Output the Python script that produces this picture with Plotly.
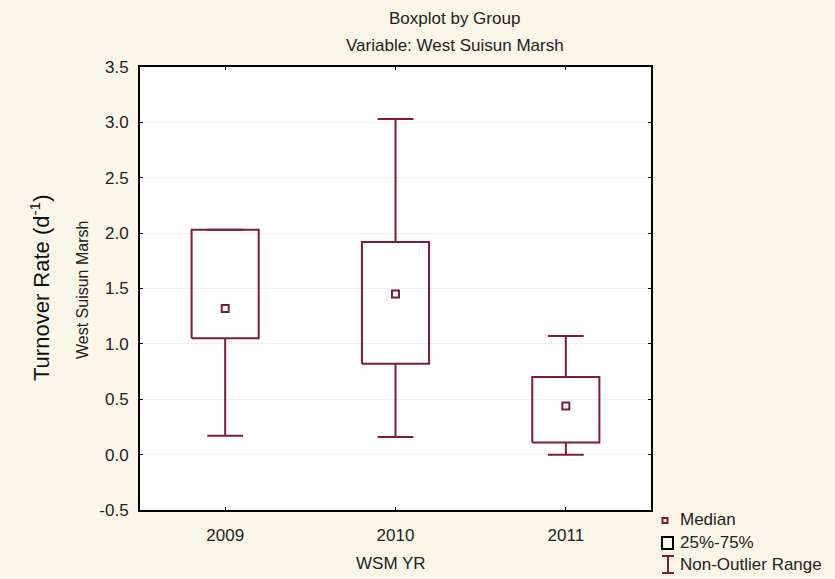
import plotly.graph_objects as go

# Turnover rate summaries for West Suisun Marsh, by year
years = [2009, 2010, 2011]
q1 = [1.05, 0.82, 0.11]
median = [1.32, 1.45, 0.44]
q3 = [2.03, 1.92, 0.70]
lower = [0.17, 0.16, 0.00]
upper = [2.03, 3.03, 1.07]

y_tick_vals = [-0.5, 0.0, 0.5, 1.0, 1.5, 2.0, 2.5, 3.0, 3.5]
y_tick_text = ["-0.5", "0.0", "0.5", "1.0", "1.5", "2.0", "2.5", "3.0", "3.5"]

BOX_COLOR = "#7d1b3b"
FONT = "Liberation Sans, Arial, sans-serif"
BOX_HALF = 0.197   # half box width in x units
CAP_HALF = 0.105   # half whisker-cap width in x units

fig = go.Figure()

for yr, a, m, b, lo, hi in zip(years, q1, median, q3, lower, upper):
    # whiskers with caps
    fig.add_trace(go.Scatter(
        x=[yr, yr, None, yr, yr, None, yr - CAP_HALF, yr + CAP_HALF, None, yr - CAP_HALF, yr + CAP_HALF],
        y=[b, hi, None, a, lo, None, hi, hi, None, lo, lo],
        mode="lines", line=dict(color=BOX_COLOR, width=2),
        hoverinfo="skip", showlegend=False))
    # 25%-75% box
    fig.add_trace(go.Scatter(
        x=[yr - BOX_HALF, yr + BOX_HALF, yr + BOX_HALF, yr - BOX_HALF, yr - BOX_HALF],
        y=[a, a, b, b, a],
        mode="lines", line=dict(color=BOX_COLOR, width=2),
        hoverinfo="skip", showlegend=False))
    # median marker
    fig.add_trace(go.Scatter(
        x=[yr], y=[m], mode="markers",
        marker=dict(symbol="square-open", size=7, color=BOX_COLOR, line=dict(width=2)),
        showlegend=False))

axis_common = dict(
    showline=True, linecolor="black", linewidth=2, mirror="ticks",
    ticks="inside", ticklen=3, tickwidth=1, tickcolor="black",
    zeroline=False,
    tickfont=dict(family=FONT, size=17, color="#222222"),
)

fig.update_xaxes(
    range=[2008.5, 2011.5], tickvals=years, ticktext=[str(y) for y in years],
    showgrid=False, ticklabelstandoff=9, **axis_common)
fig.update_yaxes(
    range=[-0.5, 3.5], tickvals=y_tick_vals, ticktext=y_tick_text,
    showgrid=True, gridcolor="#f2f2f2", gridwidth=1, ticklabelstandoff=6, **axis_common)

def px_x(px):
    return (px - 140) / 511.0

def px_y(py):
    return (510 - py) / 443.0

text_font = dict(family=FONT, size=17, color="#222222")
annotations = [
    dict(text="Boxplot by Group", x=px_x(454), y=px_y(18)),
    dict(text="Variable: West Suisun Marsh", x=px_x(455), y=px_y(45)),
    dict(text="WSM YR", x=px_x(391), y=px_y(563)),
    dict(text="West Suisun Marsh", x=px_x(82), y=px_y(290), textangle=-90,
         font=dict(family=FONT, size=16, color="#222222")),
    dict(text="Turnover Rate (d<sup>-1</sup>)", x=px_x(40), y=px_y(288), textangle=-90,
         font=dict(family=FONT, size=22, color="#111111")),
]
for ann in annotations:
    ann.setdefault("font", text_font)
    ann.update(xref="paper", yref="paper", showarrow=False, xanchor="center", yanchor="middle")

legend_items = [("Median", 519), ("25%-75%", 542), ("Non-Outlier Range", 564)]
for label, py in legend_items:
    annotations.append(dict(text=label, x=px_x(678), y=px_y(py), xref="paper", yref="paper",
                            showarrow=False, xanchor="left", yanchor="middle", font=text_font))

# legend key symbols
shapes = [
    dict(type="rect", xref="paper", yref="paper",
         x0=px_x(662.5), x1=px_x(667.5), y0=px_y(523), y1=px_y(518),
         line=dict(color=BOX_COLOR, width=2)),
    dict(type="rect", xref="paper", yref="paper",
         x0=px_x(662), x1=px_x(673), y0=px_y(549), y1=px_y(537),
         line=dict(color="black", width=2)),
    dict(type="path", xref="paper", yref="paper",
         path=(f"M {px_x(662)},{px_y(556)} L {px_x(674)},{px_y(556)} "
               f"M {px_x(668)},{px_y(556)} L {px_x(668)},{px_y(573)} "
               f"M {px_x(662)},{px_y(573)} L {px_x(674)},{px_y(573)}"),
         line=dict(color=BOX_COLOR, width=2)),
]

fig.update_layout(
    width=835, height=579,
    margin=dict(l=140, r=184, t=67, b=69),
    paper_bgcolor="#fbf6ea", plot_bgcolor="white",
    annotations=annotations, shapes=shapes,
    showlegend=False,
)

fig.write_html("out.html")
